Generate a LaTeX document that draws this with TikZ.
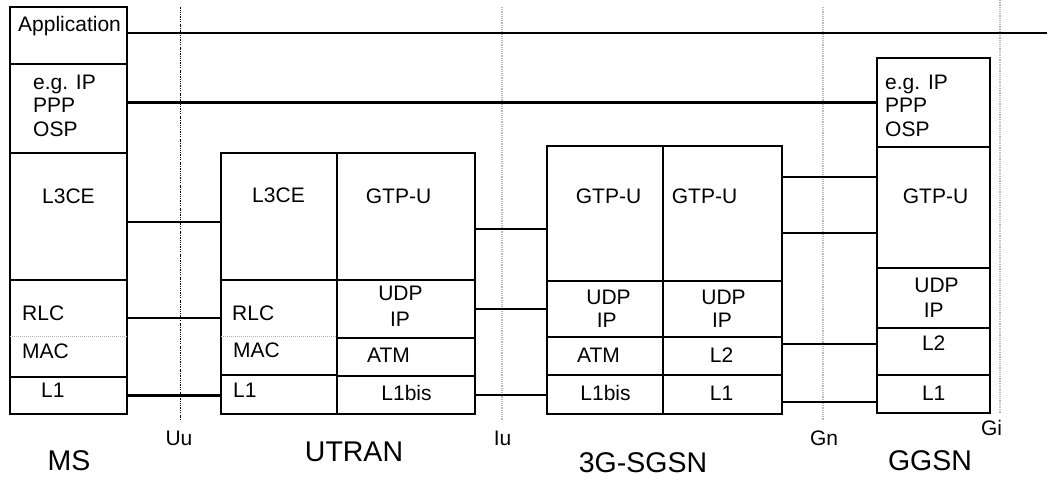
\documentclass[tikz,border=0pt]{standalone}
\usepackage{fontspec}
\setmainfont{Liberation Sans}
\newcommand{\lbox}[5]{\node[layer, minimum width={#4pt-#2pt}, minimum height={#5pt-#3pt}] (#1) at ({(#2+#4)/2},{(#3+#5)/2}) {};}
\begin{document}
\begin{tikzpicture}[x=1pt,y=-1pt,
 layer/.style={draw, line width=2.6pt, inner sep=0pt, outer sep=0pt},
 wire/.style={line width=2.6pt},
 divider/.style={draw=gray!60, line width=1pt, dash pattern=on 1pt off 1pt},
 ifline/.style={draw=gray!55, line width=1.1pt, dash pattern=on 1.2pt off 1pt},
 ifdark/.style={draw=black, line width=0.8pt, dash pattern=on 1.6pt off 1.2pt on 0.6pt off 1.2pt},
 txt/.style={inner sep=0pt, font=\fontsize{21}{24}\selectfont},
 big/.style={inner sep=0pt, font=\fontsize{28.5}{32}\selectfont}]
\useasboundingbox (0,0) rectangle (1059,481);

% interface reference lines
\coordinate (uuT) at (180,7);  \coordinate (uuB) at (180,420);
\coordinate (iuT) at (502,7);  \coordinate (iuB) at (502,420);
\coordinate (gnT) at (823,7);  \coordinate (gnB) at (823,420);
\coordinate (giT) at (1000,0); \coordinate (giB) at (1000,413);
\draw[ifdark] (uuT) -- (uuB);
\draw[ifline] (iuT) -- (iuB);
\draw[ifline] (gnT) -- (gnB);
\draw[ifline] (giT) -- (giB);
\node[txt, anchor=base] (uu) at (179,445) {Uu};
\node[txt, anchor=base] (iu) at (502.5,445) {Iu};
\node[txt, anchor=base] (gn) at (824,445) {Gn};
\node[txt, anchor=base] (gi) at (991.5,435) {Gi};

% MS
\lbox{msApp}{10}{7}{127}{64}
\lbox{msIP}{10}{64}{127}{153}
\lbox{msL3}{10}{153}{127}{280}
\lbox{msRLC}{10}{280}{127}{377}
\lbox{msL1}{10}{377}{127}{414}
\draw[divider] ([yshift=-7.5pt]msRLC.west) -- ([yshift=-7.5pt]msRLC.east);

% UTRAN
\lbox{utL3}{221}{153}{337}{280}
\lbox{utRLC}{221}{280}{337}{375}
\lbox{utL1}{221}{375}{337}{414}
\lbox{utGTP}{337}{153}{475}{280}
\lbox{utUDP}{337}{280}{475}{338}
\lbox{utATM}{337}{338}{475}{376}
\lbox{utL1b}{337}{376}{475}{414}
\draw[divider] ([yshift=-8.5pt]utRLC.west) -- ([yshift=-8.5pt]utRLC.east);

% 3G-SGSN
\lbox{sgGTPa}{547}{146}{663}{281}
\lbox{sgUDPa}{547}{281}{663}{337}
\lbox{sgATM}{547}{337}{663}{375}
\lbox{sgL1b}{547}{375}{663}{414}
\lbox{sgGTPb}{663}{146}{782}{281}
\lbox{sgUDPb}{663}{281}{782}{337}
\lbox{sgL2}{663}{337}{782}{375}
\lbox{sgL1}{663}{375}{782}{414}

% GGSN
\lbox{ggIP}{877}{58}{990}{147}
\lbox{ggGTP}{877}{147}{990}{268}
\lbox{ggUDP}{877}{268}{990}{328}
\lbox{ggL2}{877}{328}{990}{375}
\lbox{ggL1}{877}{375}{990}{413}

% texts MS
\node[txt, anchor=base west] (tApp) at (18,32) {Application};
\node[txt, anchor=base west] (tmsIPa) at (33,90) {e.g. IP};
\node[txt, anchor=base west] (tmsIPb) at (33,113) {PPP};
\node[txt, anchor=base west] (tmsIPc) at (33,137) {OSP};
\node[txt, anchor=base] (tmsL3) at (68.5,203) {L3CE};
\node[txt, anchor=base west] (tmsRLC) at (22,320) {RLC};
\node[txt, anchor=base west] (tmsMAC) at (22,358) {MAC};
\node[txt, anchor=base west] (tmsL1) at (41,397) {L1};

% texts UTRAN
\node[txt, anchor=base] (tutL3) at (278.5,202) {L3CE};
\node[txt, anchor=base] (tutGTP) at (398.5,204) {GTP-U};
\node[txt, anchor=base west] (tutRLC) at (232,320) {RLC};
\node[txt, anchor=base] (tutUDP) at (400.5,300) {UDP};
\node[txt, anchor=base] (tutIP) at (400,326) {IP};
\node[txt, anchor=base west] (tutMAC) at (233,357) {MAC};
\node[txt, anchor=base] (tutATM) at (388.5,362) {ATM};
\node[txt, anchor=base west] (tutL1) at (233,397) {L1};
\node[txt, anchor=base] (tutL1b) at (406.5,400) {L1bis};

% texts SGSN
\node[txt, anchor=base] (tsgGTPa) at (608.5,204) {GTP-U};
\node[txt, anchor=base] (tsgGTPb) at (704.5,204) {GTP-U};
\node[txt, anchor=base] (tsgUDPa) at (608.5,304) {UDP};
\node[txt, anchor=base] (tsgIPa) at (606.7,327) {IP};
\node[txt, anchor=base] (tsgUDPb) at (723.5,304) {UDP};
\node[txt, anchor=base] (tsgIPb) at (722,327) {IP};
\node[txt, anchor=base] (tsgATM) at (598.5,362) {ATM};
\node[txt, anchor=base] (tsgL2) at (721.5,362) {L2};
\node[txt, anchor=base] (tsgL1b) at (605.5,400) {L1bis};
\node[txt, anchor=base] (tsgL1) at (721.5,400) {L1};

% texts GGSN
\node[txt, anchor=base west] (tggIPa) at (885,90) {e.g. IP};
\node[txt, anchor=base west] (tggIPb) at (885,113) {PPP};
\node[txt, anchor=base west] (tggIPc) at (885,137) {OSP};
\node[txt, anchor=base] (tggGTP) at (935.5,204) {GTP-U};
\node[txt, anchor=base] (tggUDP) at (936.5,292) {UDP};
\node[txt, anchor=base] (tggIP) at (933.7,317) {IP};
\node[txt, anchor=base] (tggL2) at (933.7,350) {L2};
\node[txt, anchor=base] (tggL1) at (933.7,400) {L1};

% entity labels
\node[big, anchor=base] (lMS) at (69,470) {MS};
\node[big, anchor=base] (lUT) at (354,461) {UTRAN};
\node[big, anchor=base] (lSG) at (643,472) {3G-SGSN};
\node[big, anchor=base] (lGG) at (930,470) {GGSN};

% connectors
\coordinate (appEnd) at (1047,33);
\draw[wire] (msApp.east |- appEnd) -- (appEnd);
\draw[wire] (msIP.east |- ggIP.west) -- (ggIP.west);
\draw[wire] ([yshift=-5.5pt]msL3.east) coordinate (c1) -- (c1 -| utL3.west);
\draw[wire] ([yshift=10.5pt]msRLC.east) coordinate (c2) -- (c2 -| utRLC.west);
\draw[wire] (msL1.east) -- (msL1.east -| utL1.west);
\draw[wire] ([yshift=-12.5pt]utGTP.east) coordinate (c3) -- (c3 -| sgGTPa.west);
\draw[wire] (utUDP.east) -- (utUDP.east -| sgUDPa.west);
\draw[wire] (utL1b.east) -- (utL1b.east -| sgL1b.west);
\draw[wire] ([yshift=36.5pt]sgGTPb.east) coordinate (c4) -- (c4 -| ggGTP.west);
\draw[wire] ([yshift=-19.5pt]sgGTPb.east) coordinate (c5) -- (c5 -| ggGTP.west);
\draw[wire] ([yshift=12pt]sgL2.east) coordinate (c6) -- (c6 -| ggL2.west);
\draw[wire] ([yshift=-7.5pt]sgL1.east) coordinate (c7) -- (c7 -| ggL1.west);
\end{tikzpicture}
\end{document}
